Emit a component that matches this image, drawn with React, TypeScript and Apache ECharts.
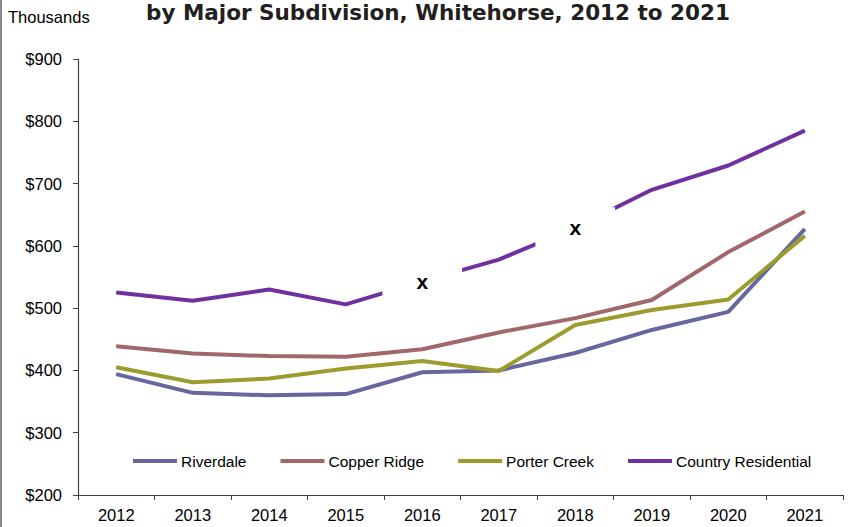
import React, { useEffect, useRef } from "react";
import * as echarts from "echarts";

const years = ["2012", "2013", "2014", "2015", "2016", "2017", "2018", "2019", "2020", "2021"];
const riverdale = [394, 364, 360, 362, 397, 400, 428, 465, 494, 627];
const copperRidge = [439, 427, 423, 422, 434, 461, 484, 513, 590, 655];
const porterCreek = [405, 381, 387, 403, 415, 399, 473, 497, 514, 616];
const countryResidential = [525, 512, 530, 506, 543, 578, 629, 690, 729, 785];
const suppressedIdx = [4, 6];
const yTicks = [200, 300, 400, 500, 600, 700, 800, 900];

const colors = {
  riverdale: "#66679F",
  copper: "#A0686A",
  porter: "#9C9C2E",
  country: "#7030A0",
};

const FONT = "'Liberation Sans', Arial, sans-serif";

export default function App() {
  const ref = useRef<HTMLDivElement>(null);
  useEffect(() => {
    if (!ref.current) return;
    const chart = echarts.init(ref.current, null, { renderer: "svg" });
    const mk = (name: string, data: number[], color: string, suppress = false) => ({
      name,
      type: "line",
      data: data.map((v, i) =>
        suppress && suppressedIdx.includes(i)
          ? {
              value: v,
              label: {
                show: true,
                formatter: "x",
                position: "inside",
                fontFamily: FONT,
                fontWeight: "bold",
                fontSize: 21,
                color: "#000",
                backgroundColor: "#ffffff",
                padding: [10, 34],
              },
            }
          : v
      ),
      color,
      showSymbol: true,
      symbol: "circle",
      symbolSize: 1,
      itemStyle: { color },
      lineStyle: { color, width: 4 },
      label: { show: false },
      emphasis: { disabled: true },
      z: 2,
    });
    chart.setOption({
      animation: false,
      backgroundColor: "#ffffff",
      title: {
        text: "by Major Subdivision, Whitehorse, 2012 to 2021",
        left: 146,
        top: 0,
        padding: 0,
        textStyle: {
          fontFamily: "'DejaVu Sans', sans-serif",
          fontWeight: "bold",
          fontSize: 21.5,
          lineHeight: 24,
          color: "#231F20",
        },
      },
      graphic: [
        {
          type: "text",
          left: 8,
          top: 8,
          style: { text: "Thousands", font: `16.5px ${FONT}`, fill: "#000" },
        },
        {
          type: "line",
          shape: { x1: 1, y1: 0, x2: 1, y2: 527 },
          style: { stroke: "#8a8a8a", lineWidth: 2 },
        },
      ],
      legend: {
        left: 133,
        top: 453,
        padding: 0,
        icon: "rect",
        itemWidth: 44,
        itemHeight: 4,
        itemGap: 34,
        textStyle: { fontFamily: FONT, fontSize: 15.5, color: "#000", padding: [0, 0, 0, -1] },
        data: ["Riverdale", "Copper Ridge", "Porter Creek", "Country Residential"],
      },
      grid: { left: 78, right: 13, top: 59, bottom: 32 },
      xAxis: {
        type: "category",
        data: years,
        boundaryGap: true,
        axisLine: { lineStyle: { color: "#404040", width: 1.2 } },
        axisTick: { show: true, length: 5, lineStyle: { color: "#404040" } },
        axisLabel: { fontFamily: FONT, fontSize: 16.5, color: "#000", margin: 11 },
      },
      yAxis: {
        type: "value",
        min: 200,
        max: 900,
        interval: 100,
        splitLine: { show: false },
        axisLine: { show: true, lineStyle: { color: "#404040", width: 1.2 } },
        axisTick: { show: true, length: 5, lineStyle: { color: "#404040" } },
        axisLabel: {
          fontFamily: FONT,
          fontSize: 16.5,
          color: "#000",
          margin: 16,
          formatter: (v: number) => (yTicks.includes(v) ? "$" + v : ""),
        },
      },
      series: [
        mk("Riverdale", riverdale, colors.riverdale),
        mk("Copper Ridge", copperRidge, colors.copper),
        mk("Porter Creek", porterCreek, colors.porter),
        mk("Country Residential", countryResidential, colors.country, true),
      ],
    });
    return () => chart.dispose();
  }, []);
  return <div ref={ref} style={{ width: 856, height: 527, position: "absolute", left: 0, top: 0 }} />;
}
